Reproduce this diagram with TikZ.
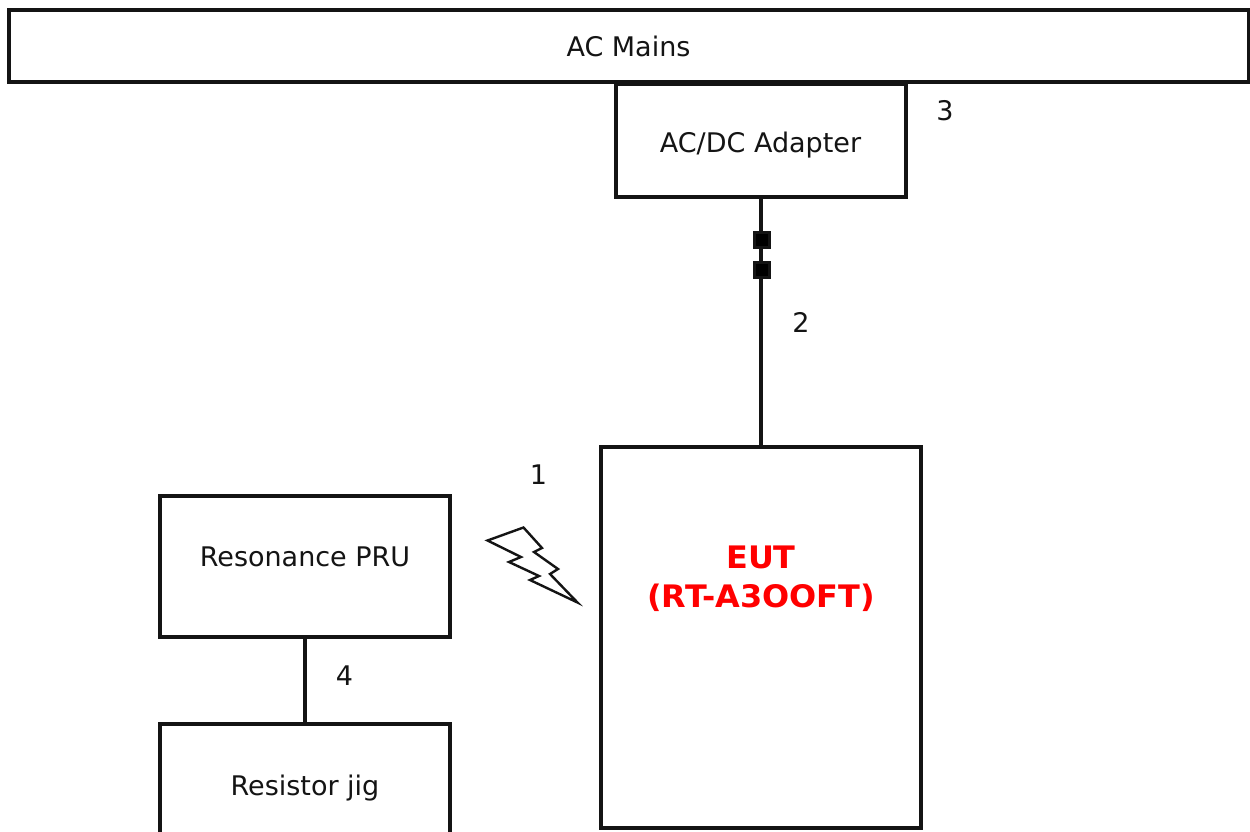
\documentclass[tikz,border=0pt]{standalone}
\usepackage{fontspec}
\setmainfont{DejaVu Sans}
\newfontfamily\eutfont[FakeStretch=1.03]{DejaVu Sans Bold}
\definecolor{ink}{HTML}{141414}
\tikzset{
  x=1pt,y=-1pt,
  box/.style={draw=ink,line width=4pt,fill=white,inner sep=0pt,text=ink,font=\fontsize{27}{32}\selectfont},
  numlabel/.style={inner sep=0pt,text=ink,font=\fontsize{27}{32}\selectfont},
  wire/.style={draw=ink,line width=4pt},
  plug/.style={draw=ink,fill=black,line width=3pt,minimum size=15pt,inner sep=0pt},
  euttext/.style={inner sep=0pt,align=center,text=red,font=\fontsize{31}{39}\selectfont\eutfont}
}
\begin{document}
\begin{tikzpicture}
\useasboundingbox (0,0) rectangle (1250,832);
\clip (0,0) rectangle (1250,832);
\fill[white] (0,0) rectangle (1250,832);
\node[box,minimum width=1240pt,minimum height=72pt] (mains) at (628.5,46) {AC Mains};
\node[box,minimum width=290pt,minimum height=113pt] (adapter) at (760.5,140.5) {\raisebox{-12.5pt}[0pt][0pt]{AC/DC Adapter}};
\node[box,minimum width=320pt,minimum height=381pt] (eut) at (761,637.5) {};
\node[box,minimum width=290pt,minimum height=141pt] (pru) at (305,566.5) {\raisebox{0pt}[0pt][0pt]{Resonance PRU}};
\node[box,minimum width=290pt,minimum height=124pt] (jig) at (305,786) {\raisebox{-9.4pt}[0pt][0pt]{Resistor jig}};
\draw[wire] (adapter.south) -- (adapter.south |- eut.north);
\draw[wire] (pru.south) -- (jig.north);
\node[plug] (plugA) at (762,240) {};
\node[plug] (plugB) at (762,270) {};
\node[euttext] (euttitle) at (761,578.5) {EUT\\(RT-A3OOFT)};
\node[numlabel] (n1) at (538.5,475) {1};
\node[numlabel] (n2) at (801,322) {2};
\node[numlabel] (n3) at (945,111) {3};
\node[numlabel] (n4) at (344.5,676) {4};
\draw[ink,line width=2.4pt,miter limit=10] (487.5,540.5) -- (523.5,527.5) -- (542,548) -- (534,552) -- (558,569) -- (550,574) -- (577.5,602.5) -- (530,580) -- (539,576) -- (509,562) -- (521,557) -- cycle;
\end{tikzpicture}
\end{document}
